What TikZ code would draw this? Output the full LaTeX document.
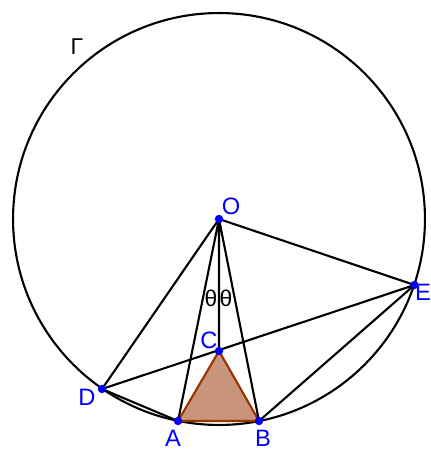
\documentclass[tikz,border=0pt]{standalone}
\usepackage{fontspec}
\setmainfont{Liberation Sans}
\usetikzlibrary{positioning}
\definecolor{ptblue}{RGB}{0,0,255}
\definecolor{rust}{RGB}{153,51,0}
\definecolor{clay}{RGB}{200,148,122}
\tikzset{
  seg/.style={black,line width=1.2pt},
  tri/.style={draw=rust,fill=clay,line width=1.2pt,line join=round},
  pt/.style={circle,fill=ptblue,inner sep=0pt,minimum size=4.8pt},
  lab/.style={text=ptblue,font=\fontsize{13.5}{15}\selectfont,inner sep=0pt},
  ang/.style={text=black,font=\fontsize{13}{15}\selectfont,inner sep=0pt},
}
\begin{document}
\begin{tikzpicture}[x=0.02cm,y=-0.02cm]
  \useasboundingbox (0,0) rectangle (430,449);
  % points
  \coordinate (O) at (219,219);
  \coordinate (A) at (178,421);
  \coordinate (B) at (259,421);
  \coordinate (C) at (219,351);
  \coordinate (D) at (102,389);
  \coordinate (E) at (414.5,285);
  % circle Gamma
  \draw[seg] (O) circle (4.12cm);
  \node[text=black,font=\fontsize{13}{15}\selectfont,inner sep=0pt] (gam) at (77,47) {Γ};
  % triangle
  \filldraw[tri] (A) -- (B) -- (C) -- cycle;
  % segments
  \draw[seg] (O) -- (D) (O) -- (A) (O) -- (B) (O) -- (E) (O) -- (C);
  \draw[seg] (D) -- (E) (D) -- (A) (B) -- (E);
  \draw[tri,fill=none] (A) -- (B);
  % angle marks
  \node[ang] (t1) at (211,298) {θ};
  \node[ang] (t2) at (226,298) {θ};
  % dots
  \foreach \p in {O,A,B,C,D,E} \node[pt] (dot\p) at (\p) {};
  % labels
  \node[lab] (labO) at (231,206) {O};
  \node[lab] (labA) at (173,438) {A};
  \node[lab] (labB) at (263,438) {B};
  \node[lab] (labC) at (209,340) {C};
  \node[lab] (labD) at (87,397) {D};
  \node[lab] (labE) at (423,292) {E};
\end{tikzpicture}
\end{document}
